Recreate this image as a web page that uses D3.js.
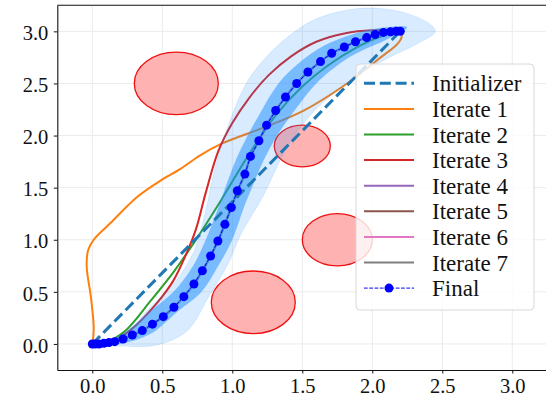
<!DOCTYPE html>
<html>
<head>
<meta charset="utf-8">
<script src="https://cdn.jsdelivr.net/npm/d3@7"></script>
<style>
body { margin: 0; background: #fff; }
svg { display: block; }
</style>
</head>
<body>
<svg id="canvas" width="546" height="400"></svg>
<script>
const width = 546
const height = 400
const font = '"Liberation Serif"'

const tickValues = [0, 0.5, 1.0, 1.5, 2.0, 2.5, 3.0]

// obstacles: centre x, centre y, radius
const obstacleX = [0.6, 1.5, 1.75, 1.15]
const obstacleY = [2.5, 1.9, 1.0, 0.4]
const obstacleR = [0.3, 0.2, 0.25, 0.3]

const initX = [0, 2.2]
const initY = [0, 3.0]

const iter1X = [0, 0.007, 0.01, -0.01, -0.04, -0.03, 0.01, 0.13, 0.32, 0.49, 0.63, 0.77, 0.92, 1.23, 1.51, 1.82, 2.06, 2.18, 2.21, 2.2]
const iter1Y = [0, 0.07, 0.17, 0.45, 0.74, 0.9, 1.0, 1.16, 1.41, 1.57, 1.68, 1.81, 1.92, 2.08, 2.24, 2.5, 2.75, 2.88, 2.95, 3.0]

const iter2X = [0, 0.1, 0.23, 0.42, 0.58, 0.73, 0.92, 1.11, 1.32, 1.5, 1.68, 1.88, 2.08, 2.2]
const iter2Y = [0, 0.02, 0.12, 0.42, 0.69, 0.98, 1.38, 1.8, 2.21, 2.47, 2.67, 2.84, 2.96, 3.0]

const iter3X = [0, 0.15, 0.27, 0.46, 0.58, 0.67, 0.74, 0.81, 0.9, 1.0, 1.12, 1.26, 1.42, 1.6, 1.8, 2.0, 2.2]
const iter3Y = [0, 0.03, 0.13, 0.39, 0.61, 0.86, 1.1, 1.45, 1.85, 2.12, 2.36, 2.58, 2.76, 2.9, 2.98, 3.01, 3.0]

const finalX = [0, 0.02, 0.047, 0.083, 0.119, 0.16, 0.22, 0.286, 0.357, 0.43, 0.507, 0.583, 0.654, 0.726, 0.786, 0.845, 0.897, 0.947, 0.993, 1.036, 1.09, 1.13, 1.19, 1.245, 1.31, 1.38, 1.46, 1.54, 1.63, 1.71, 1.8, 1.88, 1.96, 2.02, 2.08, 2.13, 2.17, 2.2]
const finalY = [0, 0, 0, 0.006, 0.013, 0.022, 0.048, 0.086, 0.128, 0.19, 0.262, 0.352, 0.454, 0.575, 0.703, 0.844, 0.988, 1.148, 1.31, 1.47, 1.63, 1.8, 1.95, 2.1, 2.24, 2.37, 2.5, 2.61, 2.71, 2.79, 2.85, 2.9, 2.94, 2.97, 2.99, 2.995, 3.0, 3.0]

// iterates 4-7 sit on top of the final path
const lateIterX = finalX
const lateIterY = finalY

// sampled trajectories, read as outer (sparse) and inner (dense) envelopes
const outerLeftX = [0, 0.2, 0.4, 0.6, 0.73, 0.81, 0.89, 1.0, 1.1, 1.22, 1.4, 1.6, 1.85, 2.05, 2.25, 2.4, 2.45]
const outerLeftY = [0, 0.05, 0.33, 0.61, 0.9, 1.28, 1.76, 2.2, 2.5, 2.72, 2.95, 3.12, 3.21, 3.22, 3.17, 3.08, 3.0]
const outerRightX = [0, 0.2, 0.46, 0.68, 0.83, 0.97, 1.06, 1.22, 1.38, 1.56, 1.72, 1.92, 2.12, 2.32, 2.45]
const outerRightY = [0, -0.02, -0.01, 0.13, 0.45, 0.77, 1.05, 1.42, 1.86, 2.2, 2.4, 2.6, 2.75, 2.88, 3.0]
const innerLeftX = [0, 0.12, 0.22, 0.4, 0.58, 0.72, 0.81, 0.89, 0.95, 1.03, 1.11, 1.2, 1.33, 1.48, 1.65, 1.9, 2.1, 2.25]
const innerLeftY = [0, 0.04, 0.1, 0.3, 0.5, 0.75, 1.0, 1.27, 1.5, 1.78, 2.0, 2.22, 2.5, 2.7, 2.86, 2.99, 3.04, 3.04]
const innerRightX = [0, 0.2, 0.42, 0.6, 0.78, 0.9, 1.0, 1.08, 1.14, 1.22, 1.32, 1.45, 1.6, 1.8, 1.95, 2.1, 2.25]
const innerRightY = [0, 0.0, 0.1, 0.3, 0.5, 0.75, 1.0, 1.3, 1.5, 1.75, 2.0, 2.25, 2.5, 2.72, 2.83, 2.92, 3.0]

const legendLabels = ["Initializer", "Iterate 1", "Iterate 2", "Iterate 3", "Iterate 4", "Iterate 5", "Iterate 6", "Iterate 7", "Final"]
const legendColors = ["#1f77b4", "#ff7f0e", "#2ca02c", "#d62728", "#9467bd", "#8c564b", "#e377c2", "#7f7f7f", "#0000ff"]

const plotLeft = 57.3, plotRight = 547.3, plotTop = 5.3, plotBottom = 370

const x = d3.scaleLinear([-0.25, 3.25], [plotLeft, plotRight])
const y = d3.scaleLinear([-0.25, 3.25], [plotBottom, plotTop])

const canvas = d3.select("#canvas")

const zip = (xs, ys) => xs.map((d, i) => [d, ys[i]])
const line = d3.line().x(d => x(d[0])).y(d => y(d[1]))
const smooth = d3.line().x(d => x(d[0])).y(d => y(d[1])).curve(d3.curveCatmullRom.alpha(0.5))

// grid
canvas.append("g").selectAll("line")
    .data(tickValues).enter().append("line")
    .attr("x1", d => x(d)).attr("x2", d => x(d))
    .attr("y1", plotTop).attr("y2", plotBottom)
    .attr("stroke", "#ebebeb").attr("stroke-width", 1)
canvas.append("g").selectAll("line")
    .data(tickValues).enter().append("line")
    .attr("x1", plotLeft).attr("x2", plotRight)
    .attr("y1", d => y(d)).attr("y2", d => y(d))
    .attr("stroke", "#ebebeb").attr("stroke-width", 1)

// obstacles
canvas.append("g").selectAll("ellipse")
    .data(obstacleX).enter().append("ellipse")
    .attr("cx", d => x(d))
    .attr("cy", (d, i) => y(obstacleY[i]))
    .attr("rx", (d, i) => x(obstacleR[i]) - x(0))
    .attr("ry", (d, i) => y(0) - y(obstacleR[i]))
    .attr("fill", "#ffb2b2")
    .attr("stroke", "#ee1111")
    .attr("stroke-width", 1.3)

// iterates
const iterates = [
    [zip(iter1X, iter1Y), legendColors[1]],
    [zip(iter2X, iter2Y), legendColors[2]],
    [zip(iter3X, iter3Y), legendColors[3]],
    [zip(lateIterX, lateIterY), legendColors[4]],
    [zip(lateIterX, lateIterY), legendColors[5]],
    [zip(lateIterX, lateIterY), legendColors[6]],
    [zip(lateIterX, lateIterY), legendColors[7]]
]
iterates.forEach(it => {
    canvas.append("path")
        .attr("d", smooth(it[0]))
        .attr("fill", "none")
        .attr("stroke", it[1])
        .attr("stroke-width", 2)
})

// sample band
const outer = zip(outerLeftX, outerLeftY).concat(zip(outerRightX, outerRightY).reverse().slice(1, -1))
const inner = zip(innerLeftX, innerLeftY).concat(zip(innerRightX, innerRightY).reverse().slice(1, -1))
const closed = d3.line().x(d => x(d[0])).y(d => y(d[1])).curve(d3.curveCatmullRomClosed.alpha(0.5))

canvas.append("path")
    .attr("d", closed(outer))
    .attr("fill", "#1e90ff").attr("fill-opacity", 0.17)
    .attr("stroke", "#1e90ff").attr("stroke-opacity", 0.18).attr("stroke-width", 0.8)
canvas.append("path")
    .attr("d", closed(inner))
    .attr("fill", "#1e90ff").attr("fill-opacity", 0.52)

// initializer
canvas.append("path")
    .attr("d", line(zip(initX, initY)))
    .attr("fill", "none")
    .attr("stroke", legendColors[0])
    .attr("stroke-width", 3)
    .attr("stroke-dasharray", "11,4.8")

// final
const finalPts = zip(finalX, finalY)
canvas.append("path")
    .attr("d", line(finalPts))
    .attr("fill", "none")
    .attr("stroke", "#0000ff")
    .attr("stroke-width", 1)
    .attr("stroke-dasharray", "3.7,1.6")
canvas.append("g").selectAll("circle")
    .data(finalPts).enter().append("circle")
    .attr("cx", d => x(d[0]))
    .attr("cy", d => y(d[1]))
    .attr("r", 4.5)
    .attr("fill", "#0000ff")

// axes
const xAxis = canvas.append("g")
    .attr("transform", `translate(0,${plotBottom})`)
    .call(d3.axisBottom(x).tickValues(tickValues).tickFormat(d3.format(".1f")).tickSize(3.5).tickSizeOuter(0))
xAxis.selectAll("text").attr("y", 23).attr("dy", null)

const yAxis = canvas.append("g")
    .attr("transform", `translate(${plotLeft},0)`)
    .call(d3.axisLeft(y).tickValues(tickValues).tickFormat(d3.format(".1f")).tickSize(3.5).tickSizeOuter(0))
yAxis.selectAll("text").attr("x", -9).attr("dy", "0.4em")

canvas.selectAll(".tick text")
    .style("font-family", font).style("font-size", "20.5px").attr("fill", "#111")
canvas.selectAll(".tick line").attr("stroke", "#111").attr("stroke-width", 1)
canvas.selectAll(".domain").attr("stroke", "#111").attr("stroke-width", 1.1)

canvas.append("line")
    .attr("x1", plotLeft).attr("x2", plotRight)
    .attr("y1", plotTop).attr("y2", plotTop)
    .attr("stroke", "#111").attr("stroke-width", 1.1)

// legend
const legend = canvas.append("g")
legend.append("rect")
    .attr("x", 356).attr("y", 64)
    .attr("width", 178).attr("height", 246)
    .attr("rx", 4)
    .attr("fill", "#fff").attr("fill-opacity", 0.8)
    .attr("stroke", "#d8d8d8").attr("stroke-width", 1)

const rows = legend.selectAll("g.row")
    .data(legendLabels).enter().append("g")
    .attr("transform", (d, i) => `translate(0,${83.3 + i * 25.6})`)

rows.append("line")
    .attr("x1", 364).attr("x2", 414)
    .attr("stroke", (d, i) => legendColors[i])
    .attr("stroke-width", (d, i) => i == 0 ? 3 : (i == 8 ? 1 : 2))
    .attr("stroke-dasharray", (d, i) => i == 0 ? "11,4.8" : (i == 8 ? "3.7,1.6" : null))
rows.filter((d, i) => i == 8).append("circle")
    .attr("cx", 389).attr("r", 4.5).attr("fill", "#0000ff")
rows.append("text")
    .attr("x", 432).attr("y", 8)
    .style("font-family", font).style("font-size", "23px")
    .attr("fill", "#111")
    .text(d => d)
</script>
</body>
</html>
